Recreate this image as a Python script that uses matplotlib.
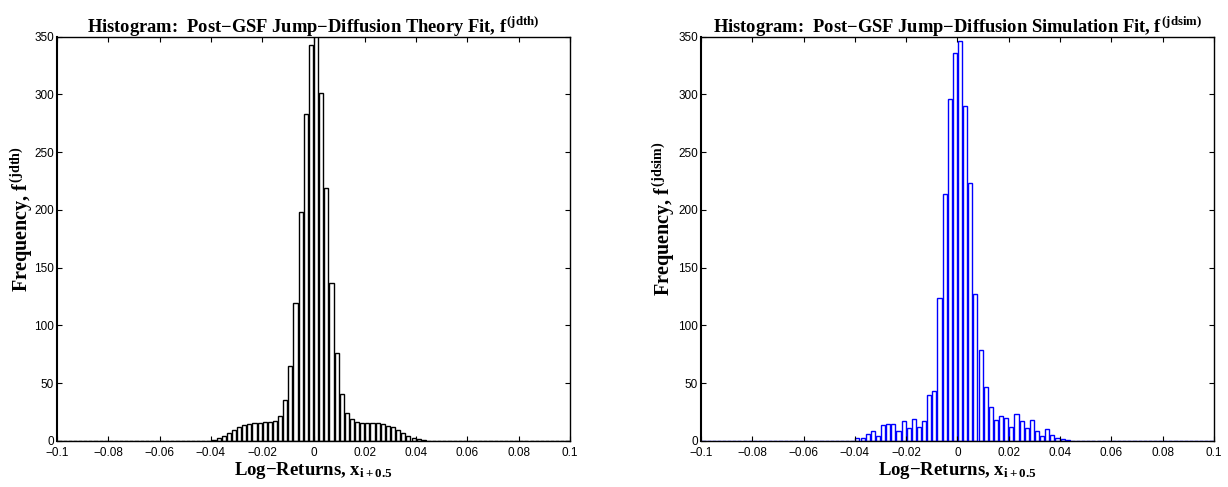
import numpy as np
import matplotlib
matplotlib.use("Agg")
import matplotlib.pyplot as plt

plt.rcParams['font.family'] = 'Liberation Sans'
plt.rcParams['mathtext.fontset'] = 'custom'
plt.rcParams['mathtext.rm'] = 'Liberation Serif:bold'
plt.rcParams['mathtext.it'] = 'Liberation Serif:bold'
plt.rcParams['mathtext.bf'] = 'Liberation Serif:bold'
plt.rcParams['axes.unicode_minus'] = True

# 100 bins over [-0.1, 0.1]; nonzero counts start at bin 30
bin_edges = np.linspace(-0.1, 0.1, 101)
first_bin = 30

theory_counts = [1.0, 2.3, 4.6, 6.9, 9.5, 12.1, 13.9, 15.0, 15.6, 15.9,
                 16.2, 16.5, 17.6, 21.9, 35.5, 65.2, 119.8, 198.3, 282.8, 343,
                 351, 301, 218.8, 136.5, 76, 40.8, 24.3, 18.8, 16.5, 15.9,
                 15.9, 15.9, 15.3, 14.7, 13.3, 11.8, 9.5, 6.6, 4.6, 2.9,
                 1.4, 0.5]

sim_counts = [3, 3, 6, 9, 4, 14, 15, 15, 9, 17,
              11, 19, 12, 17, 40, 43, 124, 214, 296, 336,
              346, 290, 223, 127, 79, 47, 29, 18, 22, 20,
              12, 23, 17, 11, 18, 9, 4, 10, 5, 3,
              2, 1]

xticks = [-0.1, -0.08, -0.06, -0.04, -0.02, 0, 0.02, 0.04, 0.06, 0.08, 0.1]
xtick_labels = ['\u22120.1', '\u22120.08', '\u22120.06', '\u22120.04', '\u22120.02', '0',
                '0.02', '0.04', '0.06', '0.08', '0.1']
yticks = [0, 50, 100, 150, 200, 250, 300, 350]


def full_counts(vals):
    c = np.zeros(100)
    c[first_bin:first_bin + len(vals)] = vals
    return c


centers = 0.5 * (bin_edges[:-1] + bin_edges[1:])
bw = bin_edges[1] - bin_edges[0]

panels = [
    (theory_counts, 'black', 'Histogram:  Post\u2212GSF Jump\u2212Diffusion Theory Fit, $f^{(jdth)}$',
     'Frequency, $f^{(jdth)}$', -0.043),
    (sim_counts, '#0000ff', 'Histogram:  Post\u2212GSF Jump\u2212Diffusion Simulation Fit, $f^{(jdsim)}$',
     'Frequency, $f^{(jdsim)}$', -0.047),
]

fig = plt.figure(figsize=(12.28, 4.87), dpi=100)
lefts = [0.0464, 0.5708]
for (vals, col, title, ylab, ylx), left in zip(panels, lefts):
    ax = fig.add_axes([left, 0.0945, 0.4178, 0.8301])
    ax.bar(centers, full_counts(vals), width=0.8 * bw, facecolor='white',
           edgecolor=col, linewidth=1.0)
    ax.set_xlim(-0.1, 0.1)
    ax.set_ylim(0, 350)
    ax.set_xticks(xticks)
    ax.set_xticklabels(xtick_labels)
    ax.set_yticks(yticks)
    ax.tick_params(direction='in', length=3.5, width=0.8, labelsize=8.5,
                   top=True, right=True)
    ax.tick_params(axis='x', pad=4)
    ax.tick_params(axis='y', pad=2)
    for s in ax.spines.values():
        s.set_linewidth(1.0)
    ax.spines['left'].set_linewidth(1.5)
    ax.set_title(title, family='Liberation Serif', weight='bold', fontsize=13.3, pad=3)
    ax.set_xlabel('Log\u2212Returns, $x_{i+0.5}$', family='Liberation Serif',
                  weight='bold', fontsize=13.5, labelpad=1)
    ax.set_ylabel(ylab, family='Liberation Serif', weight='bold', fontsize=14.5)
    ax.yaxis.set_label_coords(ylx, 0.55)

fig.savefig('out.png', dpi=100)
